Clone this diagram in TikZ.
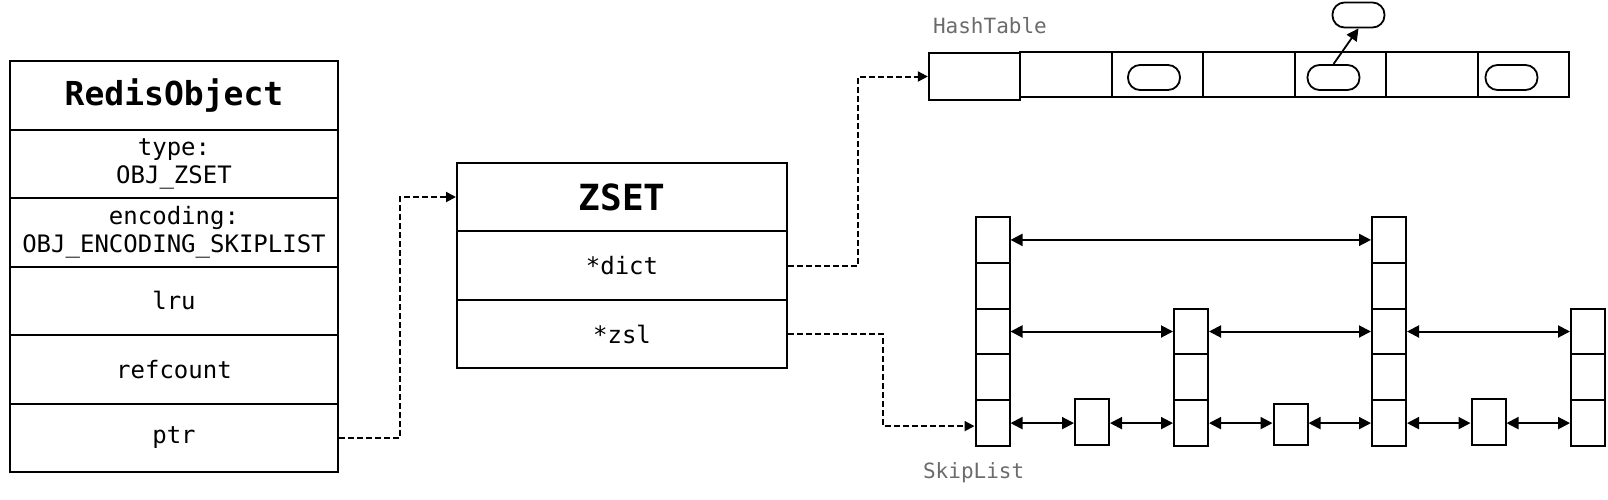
\documentclass[tikz,border=0pt]{standalone}
\usepackage{fontspec}
\setmonofont{DejaVu Sans Mono}
\usetikzlibrary{arrows.meta,positioning,calc}
\definecolor{labelGray}{HTML}{6B6B6B}

\begin{document}
\begin{tikzpicture}[
    x=0.5pt, y=-0.5pt,
    >={Triangle[length=6pt,width=6pt]},
    every node/.style={font=\ttfamily\fontsize{12}{14}\selectfont},
    field/.style={draw,line width=1pt,minimum width=164pt,minimum height=34.25pt,
                  inner sep=0pt,align=center},
    head/.style={field,font=\ttfamily\bfseries\fontsize{16.5}{19}\selectfont},
    zfield/.style={field,minimum width=165pt,minimum height=34.2pt},
    zhead/.style={zfield,font=\ttfamily\bfseries\fontsize{18}{20}\selectfont},
    bucket/.style={draw,line width=0.9pt,minimum width=45.75pt,minimum height=22.5pt,inner sep=0pt},
    entry/.style={draw,line width=0.9pt,rounded corners=6pt,minimum width=26pt,
                  minimum height=12.5pt,inner sep=0pt},
    lvl/.style={draw,line width=1pt,minimum width=17pt,minimum height=22.9pt,inner sep=0pt},
    link/.style={-{Triangle[length=5pt,width=5pt]},line width=1pt,dash pattern=on 3pt off 1.5pt},
    arr/.style={<->,line width=1pt},
    lab/.style={anchor=west,text=labelGray,font=\ttfamily\fontsize{10.5}{12}\selectfont}
  ]
  \useasboundingbox (0,0) rectangle (1608,499);
  %% RedisObject header and fields
  \node[head]  (robj) at (174,95.25)  {RedisObject};
  \node[field] (type) at (174,163.75) {type:\\OBJ\_ZSET};
  \node[field] (enc)  at (174,232.25) {encoding:\\OBJ\_ENCODING\_SKIPLIST};
  \node[field] (lru)  at (174,300.75) {lru};
  \node[field] (ref)  at (174,369.25) {refcount};
  \node[field] (ptr)  at (174,437.75) {ptr};
  %% ZSET struct
  \node[zhead]  (zset) at (622,197)   {ZSET};
  \node[zfield] (dict) at (622,265.5) {*dict};
  \node[zfield] (zsl)  at (622,334)   {*zsl};
  %% HashTable buckets
  \node[lab] (htlab) at (926,26) {HashTable};
  \node[bucket,minimum height=23.5pt] (b1) at (974.5,76.5) {};
  \foreach \i in {2,...,7}
    \node[bucket] (b\i) at ({974.5+91.5*(\i-1)},74.5) {};
  \node[entry] (e3)    at (1154,77.5)   {};
  \node[entry] (e5)    at (1333.5,77.5) {};
  \node[entry] (e7)    at (1511.5,77.5) {};
  \node[entry] (e5top) at (1358.5,15)   {};
  \draw[->,line width=0.9pt] (e5.north) -- (e5top.south);
  %% SkipList towers
  \foreach \col/\xx/\hgt in {h/992.5/5, p/1191/3, q/1389/5, r/1588/3}
    \foreach \k in {1,...,\hgt}
      \node[lvl] (\col\k) at (\xx,{423.1-45.8*(\k-1)}) {};
  \node[lvl,anchor=south,minimum height=23pt]   (m1) at (1092,446)   {};
  \node[lvl,anchor=south,minimum height=20.5pt] (m2) at (1290.5,446) {};
  \node[lvl,anchor=south,minimum height=23pt]   (m3) at (1488.5,446) {};
  \node[lab] (sllab) at (916,473) {SkipList};
  %% level links
  \draw[arr] (h5) -- (q5);
  \draw[arr] (h3) -- (p3);
  \draw[arr] (p3) -- (q3);
  \draw[arr] (q3) -- (r3);
  \foreach \a/\b in {h1/m1,m1/p1,p1/m2,m2/q1,q1/m3,m3/r1}
    \draw[arr] (\a.east |- h1) -- (\b.west |- h1);
  %% pointers
  \draw[link] (ptr.east) -- ++(61,0) |- (zset.west);
  \draw[link] (dict.east) -- ++(70,0) |- (b1.west);
  \draw[link] (zsl.east) -- ++(95,0) |- ($(h1.west)+(0,3)$);
\end{tikzpicture}
\end{document}
